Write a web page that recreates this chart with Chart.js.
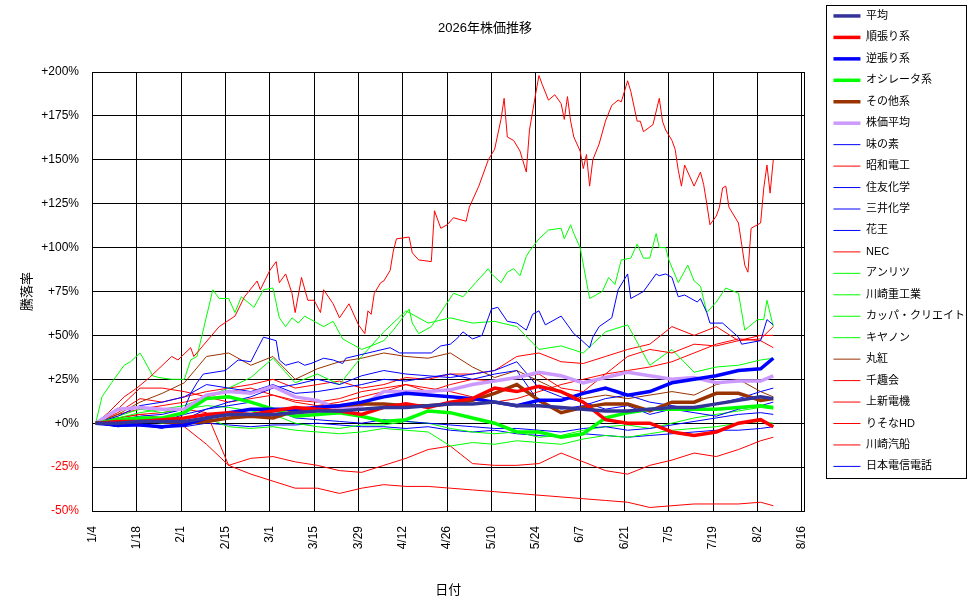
<!DOCTYPE html>
<html><head><meta charset="utf-8">
<script src="https://cdn.jsdelivr.net/npm/chart.js@4.4.1/dist/chart.umd.min.js"></script>
<style>html,body{margin:0;padding:0;background:#fff;}canvas{display:block;}</style>
</head><body>
<canvas id="c" width="970" height="604"></canvas>
<script>
// ---- axis / category data ----
const titleText = '2026年株価推移';
const tickDays = [0,14,28,42,56,70,84,98,112,126,140,154,168,182,196,210,224];
const tickLabels = ['1/4','1/18','2/1','2/15','3/1','3/15','3/29','4/12','4/26','5/10','5/24','6/7','6/21','7/5','7/19','8/2','8/16'];
const weekDays = [1,8,15,22,29,36,43,50,57,64,71,78,85,92,99,106,113,120,127,134,141,148,155,162,169,176,183,190,197,204,211,215];

// ---- series values (% change), weekly readings ----
const avgAll    = [0,0,1,1,1,3,5,5,5,6,7,7,8,9,9,10,11,11,12,10,10,9,8,7,7,8,9,9,11,13,15,14];
const trendF    = [0,1,1,2,3,5,6,5,7,9,8,7,5,9,11,9,12,14,20,18,21,18,12,2,0,0,-5,-7,-5,0,2,-2];
const contra    = [0,-1,-1,-2,-1,3,6,8,8,8,9,10,12,15,17,16,15,14,12,10,13,13,17,20,16,18,23,25,27,30,31,37];
const osc       = [0,2,3,3,6,14,15,12,8,4,5,6,4,1,2,7,6,3,0,-5,-5,-8,-6,3,6,8,8,8,8,9,10,9];
const other     = [0,1,2,1,0,1,3,4,3,7,9,10,11,11,10,10,11,13,17,22,13,6,9,11,11,7,12,12,17,17,13,14];
const stockAvg  = [0,8,9,8,8,16,18,17,21,15,13,8,10,18,18,18,19,22,24,26,29,27,23,26,29,27,25,26,23,24,24,27];
const ajinomoto = [0,-2,-1,-3,2,8,12,15,20,22,25,22,27,30,28,27,26,28,30,35,20,15,12,8,10,5,8,6,4,8,10,12];
const sumitomo  = [0,2,3,1,5,8,10,12,8,3,2,1,0,2,1,0,-1,-2,-3,-3,-4,-5,-3,-2,-4,-3,-1,1,3,5,6,5];
const kao       = [0,4,10,12,15,22,20,18,22,17,18,20,22,25,24,26,28,25,28,30,12,8,10,14,16,12,10,8,11,14,18,20];
const nec       = [0,8,20,20,18,15,12,14,16,13,12,14,18,20,22,18,22,25,24,26,28,20,18,28,38,42,40,45,44,47,48,55];
const khi       = [0,3,6,8,10,15,20,26,37,23,28,22,38,52,64,57,60,57,58,55,42,44,40,52,56,33,42,29,32,33,36,37];
const kappa     = [0,1,2,0,1,3,-2,-3,-2,-4,-5,-6,-5,-3,-4,-5,-13,-11,-12,-10,-11,-12,-9,-7,-8,-6,-4,-3,-2,0,1,0];
const canon     = [0,4,8,6,8,10,9,7,5,0,-2,-3,-1,-1,1,0,-3,-5,-6,-5,-8,-7,-4,-2,-1,-3,0,3,5,7,9,8];
const marubeni  = [0,5,12,17,23,38,40,33,38,25,31,35,37,40,38,37,40,32,26,30,24,18,14,16,14,16,18,16,22,25,18,15];
const senshukai = [0,3,5,6,8,6,-24,-29,-33,-37,-37,-40,-37,-35,-36,-36,-37,-38,-39,-40,-41,-42,-43,-44,-45,-48,-47,-46,-46,-46,-45,-47];
const joshin    = [0,3,5,3,-2,-12,-24,-20,-19,-22,-24,-27,-28,-24,-20,-15,-13,-23,-24,-24,-23,-17,-22,-27,-29,-24,-21,-17,-19,-15,-10,-8];
const resona    = [0,5,8,10,12,15,18,20,16,12,10,12,15,18,22,20,18,15,12,14,18,22,25,28,30,32,35,40,45,48,47,43];
const kKisen    = [0,6,14,12,15,18,20,22,25,20,22,24,20,22,26,25,28,28,30,38,40,35,34,38,42,45,55,50,55,47,50,50];
const ntt       = [0,-2,-1,-2,-2,0,-1,-2,-1,-1,0,-1,-2,-2,-3,-2,-4,-5,-4,-6,-7,-8,-6,-7,-8,-7,-6,-5,-4,-4,-3,-2];

// ---- finer readings for the most visible lines ----
const showaDays = [1,5,10,14,18,25,27,31,32,40,45,48,52,53,56,58,59,61,63,64,66,68,70,72,73,76,78,81,84,86,87,88,89,91,92,94,95,96,100,101,103,107,108,110,112,114,118,119,122,125,127,129,130,131,133,135,137,138,140,141,142,144,146,148,149,150,151,152,154,155,156,157,158,160,162,164,166,167,169,170,172,173,174,177,179,180,181,183,184,185,186,187,190,192,193,194,195,197,198,199,200,201,204,205,206,207,208,211,212,213,214,215];
const showaVals = [0,6,15,20,26,38,36,43,38,55,61,72,81,76,87,92,80,85,74,63,83,70,70,63,76,68,60,68,56,51,64,62,74,80,81,87,98,105,106,97,93,92,121,111,113,117,115,123,135,150,156,173,185,163,161,155,143,167,188,198,193,184,187,182,173,186,172,163,155,145,153,135,150,159,172,181,184,183,195,189,172,172,166,170,185,172,167,161,156,144,135,147,135,143,136,125,113,118,123,134,135,123,114,102,90,86,111,114,134,147,131,150];
const anritsuDays = [1,3,6,10,12,15,16,19,21,25,29,31,33,38,40,43,45,47,51,54,57,59,61,63,65,67,70,73,76,79,85,88,92,95,100,101,103,107,114,117,121,125,126,129,131,133,135,137,138,141,144,148,149,151,152,154,157,161,163,165,167,170,172,174,176,178,179,181,182,185,188,190,192,194,197,200,204,206,210,212,213,215];
const anritsuVals = [0,15,23,33,35,40,37,27,26,25,25,36,38,76,71,71,63,72,66,76,77,60,55,60,57,61,58,55,58,48,42,44,47,53,65,57,51,55,74,72,80,88,85,80,86,88,84,95,98,105,110,111,105,113,108,100,71,75,83,79,93,94,102,94,94,108,100,100,93,80,90,81,78,63,69,77,74,53,59,59,70,55];
const mitsuiDays = [1,8,15,22,29,31,33,35,42,46,50,52,54,56,58,59,61,65,67,69,73,76,79,80,87,94,97,107,110,113,115,117,120,123,125,126,128,131,134,137,139,141,143,148,152,154,157,158,160,164,166,169,170,172,174,178,179,181,183,185,187,191,192,194,195,199,204,205,211,213,215];
const mitsuiVals = [0,2,4,5,8,17,23,28,30,36,35,42,49,48,47,36,33,35,33,34,37,36,34,37,40,43,40,40,44,45,48,52,48,50,60,65,66,58,57,53,62,64,56,61,51,48,43,49,55,60,76,85,71,73,75,85,84,85,83,72,73,69,71,63,57,57,49,45,47,59,56];

const NAVY='#333399', RED='#ff0000', BLUE='#0000ff', LIME='#00ff00', BROWN='#993300', LAV='#cc99ff';
const weekly = vals => weekDays.map((d,i)=>({x:d, y:vals[i]}));
const paired = (days, vals) => days.map((d,i)=>({x:d, y:vals[i]}));
const ds = (label, color, width, pts) => ({label, borderColor:color, backgroundColor:color, borderWidth:width, data:pts, pointRadius:0, tension:0, fill:false});

const datasets = [
  ds('平均', NAVY, 3.5, weekly(avgAll)),
  ds('順張り系', RED, 3.5, weekly(trendF)),
  ds('逆張り系', BLUE, 3.5, weekly(contra)),
  ds('オシレータ系', LIME, 3.5, weekly(osc)),
  ds('その他系', BROWN, 3.5, weekly(other)),
  ds('株価平均', LAV, 3.5, weekly(stockAvg)),
  ds('味の素', BLUE, 1, weekly(ajinomoto)),
  ds('昭和電工', RED, 1, paired(showaDays, showaVals)),
  ds('住友化学', BLUE, 1, weekly(sumitomo)),
  ds('三井化学', BLUE, 1, paired(mitsuiDays, mitsuiVals)),
  ds('花王', BLUE, 1, weekly(kao)),
  ds('NEC', RED, 1, weekly(nec)),
  ds('アンリツ', LIME, 1, paired(anritsuDays, anritsuVals)),
  ds('川崎重工業', LIME, 1, weekly(khi)),
  ds('カッパ・クリエイト', LIME, 1, weekly(kappa)),
  ds('キヤノン', LIME, 1, weekly(canon)),
  ds('丸紅', BROWN, 1, weekly(marubeni)),
  ds('千趣会', RED, 1, weekly(senshukai)),
  ds('上新電機', RED, 1, weekly(joshin)),
  ds('りそなHD', RED, 1, weekly(resona)),
  ds('川崎汽船', RED, 1, weekly(kKisen)),
  ds('日本電信電話', BLUE, 1, weekly(ntt))
];

const FONT = "'Liberation Sans', 'Noto Sans CJK JP', sans-serif";
Chart.defaults.font.family = FONT;
Chart.defaults.color = '#000';

const legendBox = {
  id: 'legendBox',
  afterDraw(chart) {
    const c = chart.ctx;
    c.save();
    c.strokeStyle = '#000'; c.lineWidth = 1;
    c.strokeRect(826.5, 5.5, 140, 473);
    c.restore();
  }
};

new Chart(document.getElementById('c'), {
  type: 'line',
  data: { datasets },
  options: {
    responsive: false, animation: false, devicePixelRatio: 1,
    layout: { padding: 0 },
    plugins: {
      title: { display: true, text: titleText, color: '#000', font: { size: 13, weight: 'normal' }, padding: { top: 21, bottom: 35.4 } },
      legend: {
        position: 'right', align: 'start', maxWidth: 147,
        labels: { usePointStyle: true, pointStyle: 'line', pointStyleWidth: 27, padding: 10.45, color: '#000', font: { size: 11 } }
      },
      tooltip: { enabled: false }
    },
    scales: {
      x: {
        type: 'linear', min: 0, max: 224.7,
        afterBuildTicks: s => { s.ticks = tickDays.map(v => ({ value: v })); },
        afterFit: s => { s.height = 93; },
        grid: { color: '#000', lineWidth: 1, drawTicks: false },
        border: { color: '#000' },
        ticks: {
          autoSkip: false, minRotation: 90, maxRotation: 90, padding: 15, font: { size: 12 }, color: '#000',
          callback: v => { const i = tickDays.indexOf(v); return i >= 0 ? tickLabels[i] : ''; }
        },
        title: { display: true, text: '日付', color: '#000', font: { size: 13 }, padding: { top: 0, bottom: 6.2 } }
      },
      y: {
        min: -50, max: 200,
        afterFit: s => { s.width = 92.5; },
        grid: { color: '#000', lineWidth: 1, drawTicks: false },
        border: { color: '#000' },
        ticks: {
          stepSize: 25, padding: 13.5, font: { size: 12 },
          color: c => (c.tick && c.tick.value < 0) ? '#ff0000' : '#000',
          callback: v => (v >= 0 ? '+' : '') + v + '%'
        },
        title: { display: true, text: '騰落率', color: '#000', font: { size: 13 }, padding: { top: 19.2, bottom: 0 } }
      },
      y2: {
        type: 'linear', position: 'right', display: true,
        afterFit: s => { s.width = 19; },
        grid: { display: false, drawOnChartArea: false },
        ticks: { display: false },
        border: { display: true, color: '#000' }
      }
    }
  },
  plugins: [legendBox]
});
</script>
</body></html>
